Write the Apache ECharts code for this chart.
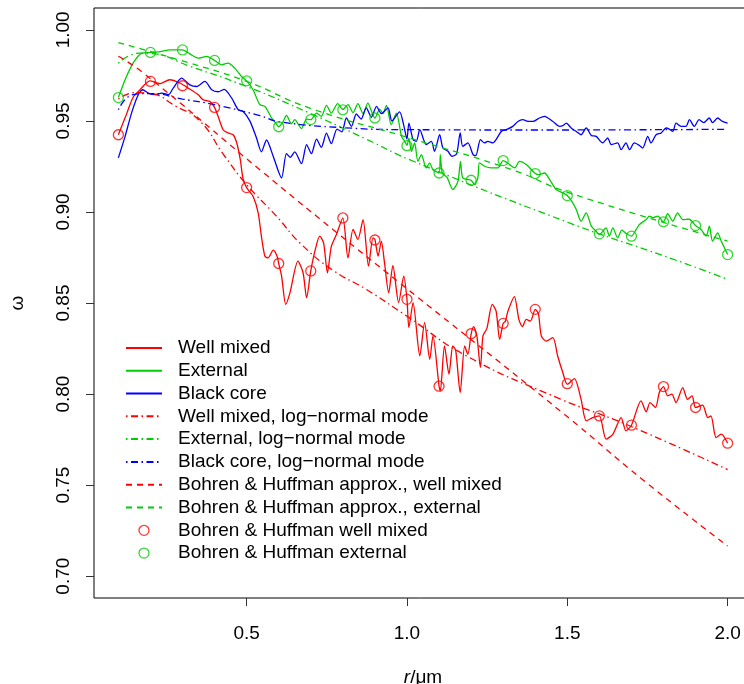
<!DOCTYPE html>
<html>
<head>
<meta charset="utf-8">
<script src="https://cdn.jsdelivr.net/npm/echarts@6/dist/echarts.min.js"></script>
<style>
  html, body { margin: 0; padding: 0; background: #fff; }
  #chart { width: 744px; height: 684px; }
</style>
</head>
<body>
<div id="chart"></div>
<script>
// Single scattering albedo ω against particle radius r (µm)

// Full calculations (wavy curves), [r, ω]
const wellMixed = [
  [0.100,0.9424],[0.126,0.9540],[0.146,0.9630],[0.167,0.9670],[0.198,0.9720],[0.230,0.9705],[0.260,0.9726],
  [0.292,0.9708],[0.318,0.9680],[0.349,0.9644],[0.364,0.9616],[0.385,0.9607],[0.400,0.9574],[0.411,0.9525],
  [0.427,0.9450],[0.442,0.9434],[0.458,0.9424],[0.469,0.9380],[0.480,0.9290],[0.489,0.9180],[0.500,0.9134],
  [0.520,0.9086],[0.536,0.8995],[0.546,0.8867],[0.557,0.8757],[0.567,0.8748],[0.583,0.8790],[0.595,0.8757],
  [0.600,0.8717],[0.609,0.8648],[0.622,0.8492],[0.635,0.8556],[0.660,0.8730],[0.676,0.8666],[0.687,0.8529],
  [0.700,0.8676],[0.715,0.8800],[0.728,0.8867],[0.740,0.8830],[0.752,0.8666],[0.764,0.8810],[0.780,0.8876],
  [0.800,0.8967],[0.816,0.8748],[0.832,0.8904],[0.847,0.8849],[0.863,0.8958],[0.880,0.8702],[0.894,0.8858],
  [0.900,0.8849],[0.910,0.8757],[0.920,0.8840],[0.930,0.8720],[0.943,0.8556],[0.956,0.8706],[0.974,0.8502],
  [0.990,0.8648],[1.000,0.8520],[1.006,0.8365],[1.019,0.8502],[1.040,0.8210],[1.055,0.8392],[1.071,0.8191],
  [1.081,0.8319],[1.100,0.8044],[1.104,0.8017],[1.117,0.8264],[1.131,0.8109],[1.143,0.8264],[1.152,0.8240],
  [1.166,0.8008],[1.180,0.8264],[1.190,0.8218],[1.200,0.8328],[1.208,0.8370],[1.218,0.8320],[1.229,0.8145],
  [1.237,0.8319],[1.249,0.8359],[1.266,0.8492],[1.278,0.8456],[1.289,0.8300],[1.300,0.8388],[1.307,0.8400],
  [1.315,0.8456],[1.335,0.8535],[1.349,0.8410],[1.360,0.8370],[1.372,0.8410],[1.385,0.8400],[1.400,0.8465],
  [1.410,0.8440],[1.419,0.8319],[1.434,0.8291],[1.455,0.8310],[1.470,0.8209],[1.486,0.8118],[1.500,0.8054],
  [1.522,0.8085],[1.543,0.7971],[1.559,0.7853],[1.580,0.7871],[1.600,0.7880],[1.621,0.7752],[1.642,0.7779],
  [1.668,0.7871],[1.683,0.7798],[1.700,0.7829],[1.730,0.7962],[1.746,0.7902],[1.758,0.7953],[1.775,0.7926],
  [1.787,0.8008],[1.800,0.8041],[1.813,0.7990],[1.826,0.8000],[1.839,0.7953],[1.860,0.8035],[1.875,0.7971],
  [1.889,0.7990],[1.900,0.7926],[1.922,0.7939],[1.938,0.7871],[1.948,0.7880],[1.964,0.7761],[1.980,0.7780],
  [2.000,0.7730]
];

const external = [
  [0.100,0.9628],[0.121,0.9726],[0.146,0.9817],[0.173,0.9872],[0.200,0.9876],[0.230,0.9881],[0.261,0.9890],
  [0.300,0.9890],[0.323,0.9868],[0.349,0.9845],[0.375,0.9854],[0.400,0.9832],[0.422,0.9808],[0.442,0.9817],
  [0.463,0.9790],[0.484,0.9744],[0.500,0.9720],[0.520,0.9671],[0.541,0.9589],[0.557,0.9580],[0.578,0.9516],
  [0.590,0.9490],[0.600,0.9468],[0.614,0.9497],[0.624,0.9530],[0.640,0.9484],[0.650,0.9507],[0.671,0.9458],
  [0.687,0.9510],[0.700,0.9507],[0.718,0.9543],[0.733,0.9525],[0.749,0.9585],[0.764,0.9543],[0.784,0.9595],
  [0.800,0.9563],[0.816,0.9589],[0.832,0.9545],[0.847,0.9595],[0.863,0.9540],[0.878,0.9598],[0.890,0.9550],
  [0.900,0.9516],[0.915,0.9565],[0.925,0.9540],[0.936,0.9585],[0.951,0.9480],[0.967,0.9543],[0.983,0.9415],
  [0.993,0.9388],[1.000,0.9366],[1.006,0.9405],[1.014,0.9333],[1.024,0.9379],[1.034,0.9278],[1.045,0.9315],
  [1.060,0.9242],[1.071,0.9269],[1.081,0.9232],[1.100,0.9214],[1.104,0.9315],[1.110,0.9214],[1.125,0.9190],
  [1.143,0.9123],[1.159,0.9168],[1.167,0.9278],[1.174,0.9187],[1.200,0.9174],[1.211,0.9150],[1.221,0.9187],
  [1.226,0.9269],[1.242,0.9251],[1.263,0.9242],[1.284,0.9242],[1.300,0.9282],[1.320,0.9260],[1.336,0.9242],
  [1.351,0.9278],[1.372,0.9260],[1.400,0.9211],[1.413,0.9205],[1.429,0.9214],[1.445,0.9178],[1.465,0.9123],
  [1.486,0.9105],[1.500,0.9090],[1.517,0.9050],[1.528,0.9013],[1.543,0.8949],[1.559,0.8995],[1.575,0.8922],
  [1.590,0.8894],[1.600,0.8876],[1.621,0.8913],[1.631,0.8867],[1.642,0.8913],[1.657,0.8858],[1.670,0.8900],
  [1.685,0.8880],[1.700,0.8867],[1.715,0.8904],[1.725,0.8931],[1.746,0.8958],[1.756,0.8977],[1.767,0.8968],
  [1.782,0.8977],[1.800,0.8946],[1.813,0.8990],[1.829,0.8949],[1.844,0.8995],[1.860,0.8958],[1.880,0.8960],
  [1.900,0.8925],[1.917,0.8904],[1.933,0.8867],[1.943,0.8922],[1.953,0.8840],[1.969,0.8885],[1.980,0.8840],
  [2.000,0.8766]
];

const blackCore = [
  [0.100,0.9297],[0.121,0.9415],[0.141,0.9543],[0.162,0.9644],[0.176,0.9671],[0.193,0.9653],[0.214,0.9644],
  [0.235,0.9653],[0.256,0.9644],[0.271,0.9680],[0.297,0.9735],[0.323,0.9698],[0.344,0.9689],[0.370,0.9717],
  [0.391,0.9671],[0.411,0.9660],[0.430,0.9673],[0.453,0.9626],[0.474,0.9561],[0.489,0.9552],[0.510,0.9500],
  [0.531,0.9405],[0.546,0.9330],[0.562,0.9395],[0.583,0.9305],[0.609,0.9187],[0.624,0.9320],[0.636,0.9300],
  [0.650,0.9330],[0.671,0.9265],[0.687,0.9370],[0.702,0.9320],[0.718,0.9400],[0.733,0.9355],[0.749,0.9433],
  [0.764,0.9375],[0.782,0.9455],[0.797,0.9440],[0.811,0.9516],[0.827,0.9470],[0.842,0.9538],[0.857,0.9510],
  [0.873,0.9571],[0.889,0.9520],[0.905,0.9580],[0.920,0.9540],[0.941,0.9571],[0.953,0.9500],[0.977,0.9550],
  [0.990,0.9475],[1.000,0.9400],[1.006,0.9488],[1.019,0.9397],[1.029,0.9388],[1.040,0.9452],[1.060,0.9370],
  [1.076,0.9388],[1.086,0.9333],[1.102,0.9424],[1.112,0.9351],[1.128,0.9333],[1.140,0.9305],[1.155,0.9320],
  [1.166,0.9434],[1.174,0.9360],[1.190,0.9379],[1.206,0.9315],[1.215,0.9310],[1.229,0.9397],[1.242,0.9379],
  [1.252,0.9388],[1.268,0.9379],[1.278,0.9397],[1.294,0.9442],[1.310,0.9452],[1.330,0.9470],[1.346,0.9497],
  [1.361,0.9507],[1.380,0.9497],[1.393,0.9497],[1.413,0.9516],[1.429,0.9525],[1.455,0.9497],[1.476,0.9470],
  [1.486,0.9474],[1.497,0.9488],[1.512,0.9461],[1.528,0.9442],[1.543,0.9424],[1.559,0.9461],[1.575,0.9420],
  [1.590,0.9415],[1.610,0.9379],[1.626,0.9406],[1.637,0.9370],[1.657,0.9379],[1.668,0.9342],[1.683,0.9379],
  [1.694,0.9342],[1.709,0.9379],[1.725,0.9365],[1.735,0.9351],[1.751,0.9415],[1.761,0.9379],[1.777,0.9424],
  [1.793,0.9434],[1.808,0.9461],[1.818,0.9455],[1.829,0.9442],[1.839,0.9488],[1.855,0.9470],[1.870,0.9470],
  [1.881,0.9507],[1.896,0.9470],[1.911,0.9507],[1.925,0.9490],[1.943,0.9516],[1.953,0.9490],[1.969,0.9516],
  [1.984,0.9497],[2.000,0.9488]
];

// Log-normal mode curves
const wellMixedLN = [
  [0.10,0.9620],[0.15,0.9655],[0.20,0.9650],[0.28,0.9580],[0.354,0.9500],[0.43,0.9310],[0.50,0.9150],
  [0.593,0.8977],[0.666,0.8830],[0.769,0.8680],[0.873,0.8575],[0.998,0.8430],[1.185,0.8210],[1.475,0.7975],
  [1.683,0.7834],[2.00,0.7585]
];
const externalLN = [
  [0.10,0.9817],[0.165,0.9872],[0.20,0.9870],[0.323,0.9800],[0.50,0.9689],[0.70,0.9540],[0.873,0.9400],
  [1.008,0.9287],[1.506,0.8940],[1.818,0.8748],[2.00,0.8630]
];
const blackCoreLN = [
  [0.10,0.9561],[0.146,0.9644],[0.20,0.9650],[0.30,0.9620],[0.40,0.9589],[0.541,0.9529],[0.60,0.9496],
  [0.80,0.9463],[1.00,0.9452],[1.40,0.9450],[2.00,0.9454]
];

// Bohren & Huffman approximations
const bhApproxWell = [
  [0.10,0.9855],[0.178,0.9763],[0.541,0.9232],[0.769,0.8904],[0.977,0.8611],[1.49,0.7890],[1.735,0.7530],
  [2.00,0.7165]
];
const bhApproxExt = [
  [0.10,0.9930],[0.323,0.9817],[0.50,0.9717],[0.697,0.9570],[1.008,0.9406],[1.33,0.9230],[1.506,0.9105],
  [2.00,0.8840]
];

// Bohren & Huffman exact points
const bhRadii = [0.1,0.2,0.3,0.4,0.5,0.6,0.7,0.8,0.9,1.0,1.1,1.2,1.3,1.4,1.5,1.6,1.7,1.8,1.9,2.0];
const bhWell = [0.9424,0.9717,0.9693,0.9574,0.9134,0.8717,0.8676,0.8967,0.8846,0.8520,
                0.8043,0.8331,0.8388,0.8465,0.8057,0.7880,0.7829,0.8041,0.7926,0.7730];
const bhExt  = [0.9628,0.9876,0.9890,0.9832,0.9720,0.9468,0.9507,0.9561,0.9516,0.9364,
                0.9214,0.9174,0.9282,0.9211,0.9090,0.8880,0.8867,0.8946,0.8925,0.8766];

const xTicks = [0.5, 1.0, 1.5, 2.0];
const yTicks = [0.70, 0.75, 0.80, 0.85, 0.90, 0.95, 1.00];

const RED = '#ff0000', GREEN = '#00cd00', BLUE = '#0000ff';
const FONT = '"Liberation Sans", Arial, Helvetica, sans-serif';
const FS = 19;
const DASH = [6, 5];
const DOTDASH = [1.5, 3.5, 7, 3.5];
const LW = 1.3;
const CLEAR = 'rgba(0,0,0,0)';

function lineSeries(name, data, color, type, smooth) {
  return {
    name, type: 'line', data, symbol: 'none', smooth,
    lineStyle: { color, width: LW, type },
    itemStyle: { color },
    emphasis: { disabled: true }, silent: true
  };
}
function pointSeries(name, ys, color) {
  return {
    name, type: 'scatter', z: 5,
    data: bhRadii.map((r, i) => [r, ys[i]]),
    symbol: 'circle', symbolSize: 10,
    itemStyle: { color: CLEAR, borderColor: color, borderWidth: LW },
    emphasis: { disabled: true }, silent: true
  };
}

const series = [
  lineSeries('Well mixed', wellMixed, RED, 'solid', 0.25),
  lineSeries('External', external, GREEN, 'solid', 0.25),
  lineSeries('Black core', blackCore, BLUE, 'solid', 0.25),
  lineSeries('Well mixed, log\u2212normal mode', wellMixedLN, RED, DOTDASH, 0.5),
  lineSeries('External, log\u2212normal mode', externalLN, GREEN, DOTDASH, 0.5),
  lineSeries('Black core, log\u2212normal mode', blackCoreLN, BLUE, DOTDASH, 0.5),
  lineSeries('Bohren & Huffman approx., well mixed', bhApproxWell, RED, DASH, 0.5),
  lineSeries('Bohren & Huffman approx., external', bhApproxExt, GREEN, DASH, 0.5),
  pointSeries('Bohren & Huffman well mixed', bhWell, RED),
  pointSeries('Bohren & Huffman external', bhExt, GREEN)
];

// Legend keys: plain line samples for curves, open circles for points
const legendData = series.map(s => s.type === 'scatter'
  ? { name: s.name, icon: 'circle',
      itemStyle: { color: CLEAR, borderColor: s.itemStyle.borderColor, borderWidth: LW } }
  : { name: s.name, itemStyle: { color: CLEAR, borderColor: CLEAR, borderWidth: 0, opacity: 0 } });

const chart = echarts.init(document.getElementById('chart'), null, { renderer: 'canvas' });
chart.setOption({
  animation: false,
  backgroundColor: '#ffffff',
  grid: {
    left: 94, top: 8, width: 658, height: 590,
    outerBoundsMode: 'none', containLabel: false,
    show: true, borderColor: '#000', borderWidth: 1, backgroundColor: 'transparent'
  },
  legend: {
    orient: 'vertical', left: 125, top: 338.4, padding: 0,
    itemWidth: 36, itemHeight: 10, itemGap: 3.8,
    selectedMode: false,
    textStyle: { fontFamily: FONT, fontSize: FS, color: '#000', lineHeight: 10, padding: [0, 0, 0, 11] },
    data: legendData
  },
  xAxis: {
    type: 'value', min: 0.024, max: 2.076,
    axisLine: { show: false },
    splitLine: { show: false },
    axisTick: { show: true, length: 8, customValues: xTicks, lineStyle: { color: '#333', width: 1 } },
    axisLabel: {
      customValues: xTicks, margin: 26.5, color: '#000',
      fontFamily: FONT, fontSize: FS,
      formatter: v => v.toFixed(1)
    },
    name: '{i|r}/\u03bcm', nameLocation: 'middle', nameGap: 70,
    nameTextStyle: {
      fontFamily: FONT, fontSize: FS, color: '#000',
      rich: { i: { fontFamily: FONT, fontSize: FS, fontStyle: 'italic', color: '#000' } }
    }
  },
  yAxis: {
    type: 'value', min: 0.688, max: 1.012,
    axisLine: { show: false },
    splitLine: { show: false },
    axisTick: { show: true, length: 8, customValues: yTicks, lineStyle: { color: '#333', width: 1 } },
    axisLabel: {
      customValues: yTicks, rotate: 90, margin: 21, color: '#000',
      fontFamily: FONT, fontSize: FS,
      formatter: v => v.toFixed(2)
    },
    name: '\u03c9', nameLocation: 'middle', nameRotate: 90, nameGap: 67,
    nameTextStyle: { fontFamily: FONT, fontSize: FS, color: '#000' }
  },
  series
});
</script>
</body>
</html>
